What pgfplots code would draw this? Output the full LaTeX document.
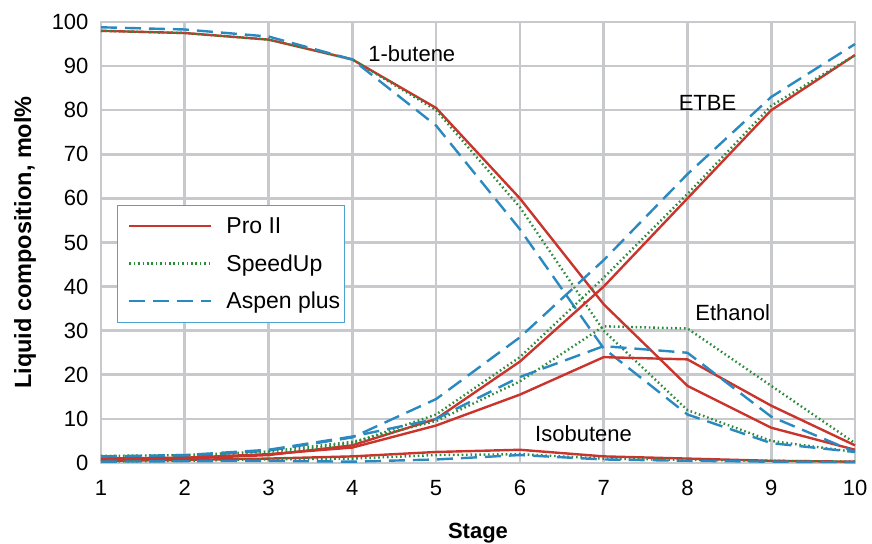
\documentclass[border=0pt]{standalone}
\usepackage{fontspec}
\setmainfont{Liberation Sans}
\usepackage{pgfplots}
\pgfplotsset{compat=1.18}
\definecolor{proii}{HTML}{C9342C}
\definecolor{speed}{HTML}{2E8B3E}
\definecolor{aspen}{HTML}{2A8AC0}
\definecolor{gridc}{HTML}{C8C9CD}
\definecolor{legc}{HTML}{4DA3CC}
\newcommand{\tf}{\fontsize{22}{25}\selectfont}
\begin{document}
\begin{tikzpicture}
\useasboundingbox (0,0) rectangle (872pt,543pt);
\begin{axis}[
  at={(101pt,80pt)}, anchor=south west,
  scale only axis, width=754pt, height=441pt,
  xmin=1, xmax=10, ymin=0, ymax=100,
  xtick={1,...,10}, ytick={0,10,...,100},
  grid=major,
  major grid style={gridc, line width=2.6pt},
  axis line style={gridc, line width=2.6pt},
  tick style={draw=none},
  ticklabel style={font=\tf},
  xticklabel style={yshift=-14pt},
  yticklabel style={xshift=-9pt},
  /pgf/number format/assume math mode=true,
  xlabel={Stage}, ylabel={Liquid composition, mol\%},
  every axis x label/.style={at={(axis description cs:0.5,0)}, anchor=center, yshift=-70pt, font=\fontsize{22}{25}\selectfont\bfseries},
  every axis y label/.style={at={(axis description cs:-0.1008,0.5)}, rotate=90, anchor=center, font=\fontsize{23.5}{26}\selectfont\bfseries},
  legend style={at={(0.021,0.585)}, anchor=north west, draw=legc, line width=1.2pt,
    font=\fontsize{23}{26}\selectfont, row sep=15.5pt, inner xsep=2pt, inner ysep=10pt, fill=white},
  legend cell align=left,
  legend image code/.code={\path[draw=none] (-10pt,0pt) -- (95pt,0pt); \draw[#1] (0pt,0pt) -- (82pt,0pt);},
  clip=false,
]
% 1-butene (carries the legend)
\addplot[proii, line width=2.4pt] coordinates {(1,98) (2,97.5) (3,96) (4,91.5) (5,80.5) (6,60) (7,36) (8,17.5) (9,8) (10,3)};
\addlegendentry{Pro II}
\addplot[speed, line width=2.4pt, dash pattern=on 1.6pt off 2.8pt] coordinates {(1,98) (2,97.5) (3,96) (4,91.5) (5,80) (6,58) (7,30) (8,12) (9,5) (10,2.5)};
\addlegendentry{SpeedUp}
\addplot[aspen, line width=2.4pt, dash pattern=on 16pt off 8pt] coordinates {(1,98.8) (2,98.3) (3,96.7) (4,91.5) (5,76.5) (6,53) (7,26) (8,11) (9,4.5) (10,2.5)};
\addlegendentry{Aspen plus}
% ETBE
\addplot[proii, line width=2.4pt, forget plot] coordinates {(1,0.5) (2,1) (3,1.8) (4,4) (5,10) (6,23) (7,40) (8,60) (9,80) (10,92.5)};
\addplot[speed, line width=2.4pt, dash pattern=on 1.6pt off 2.8pt, forget plot] coordinates {(1,0.8) (2,1.2) (3,2) (4,4.5) (5,11) (6,24) (7,42) (8,61) (9,81) (10,92.5)};
\addplot[aspen, line width=2.4pt, dash pattern=on 16pt off 8pt, forget plot] coordinates {(1,1) (2,1.5) (3,2.8) (4,5.8) (5,14.5) (6,28.5) (7,46) (8,65.5) (9,83) (10,95)};
% Ethanol
\addplot[proii, line width=2.4pt, forget plot] coordinates {(1,1) (2,1.2) (3,2) (4,3.5) (5,8.5) (6,15.5) (7,24) (8,23.5) (9,13) (10,4)};
\addplot[speed, line width=2.4pt, dash pattern=on 1.6pt off 2.8pt, forget plot] coordinates {(1,1.6) (2,1.8) (3,2.6) (4,4.8) (5,9.5) (6,18.5) (7,31) (8,30.5) (9,17.5) (10,4.5)};
\addplot[aspen, line width=2.4pt, dash pattern=on 16pt off 8pt, forget plot] coordinates {(1,1.5) (2,1.8) (3,3) (4,6) (5,10) (6,19.5) (7,26.5) (8,25) (9,10.5) (10,2.5)};
% Isobutene
\addplot[proii, line width=2.4pt, forget plot] coordinates {(1,0.5) (2,0.7) (3,1) (4,1.5) (5,2.5) (6,3) (7,1.5) (8,1) (9,0.5) (10,0.3)};
\addplot[speed, line width=2.4pt, dash pattern=on 1.6pt off 2.8pt, forget plot] coordinates {(1,0.3) (2,0.5) (3,0.8) (4,1) (5,1.8) (6,2) (7,1) (8,0.7) (9,0.5) (10,0.3)};
\addplot[aspen, line width=2.4pt, dash pattern=on 16pt off 8pt, forget plot] coordinates {(1,0.3) (2,0.4) (3,0.5) (4,0.3) (5,0.8) (6,1.8) (7,0.8) (8,0.5) (9,0.3) (10,0.2)};
% labels
\node[font=\tf] at (axis cs:4.71,92.9) {1-butene};
\node[font=\tf] at (axis cs:8.24,81.7) {ETBE};
\node[font=\tf] at (axis cs:8.54,34) {Ethanol};
\node[font=\tf] at (axis cs:6.76,6.6) {Isobutene};
\end{axis}
\end{tikzpicture}
\end{document}
